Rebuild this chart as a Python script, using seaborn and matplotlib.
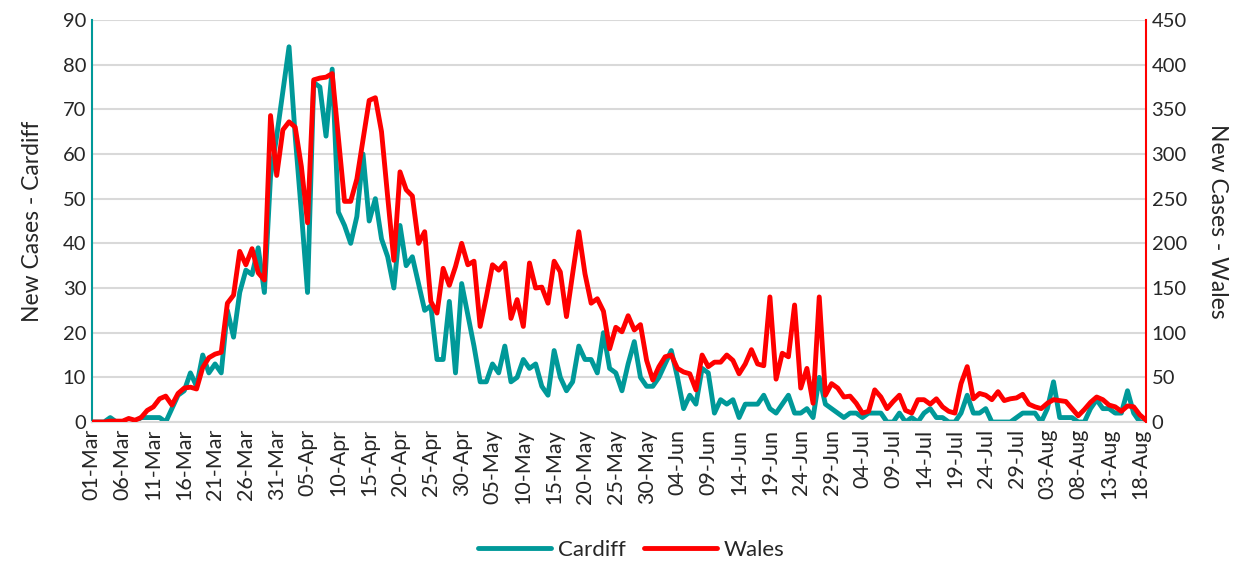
import matplotlib
matplotlib.use("Agg")
import matplotlib.pyplot as plt
import pandas as pd
import seaborn as sns

# daily new cases, 01-Mar to 19-Aug
cardiff = [0, 0, 0, 1, 0, 0, 0, 0, 1, 1,
           1, 1, 0, 3, 6, 7, 11, 8, 15, 11,
           13, 11, 25, 19, 29, 34, 33, 39, 29, 55,
           64, 74, 84, 64, 47, 29, 76, 75, 64, 79,
           47, 44, 40, 46, 60, 45, 50, 41, 37, 30,
           44, 35, 37, 31, 25, 26, 14, 14, 27, 11,
           31, 24, 17, 9, 9, 13, 11, 17, 9, 10,
           14, 12, 13, 8, 6, 16, 10, 7, 9, 17,
           14, 14, 11, 20, 12, 11, 7, 13, 18, 10,
           8, 8, 10, 13, 16, 10, 3, 6, 4, 12,
           11, 2, 5, 4, 5, 1, 4, 4, 4, 6,
           3, 2, 4, 6, 2, 2, 3, 1, 10, 4,
           3, 2, 1, 2, 2, 1, 2, 2, 2, 0,
           0, 2, 0, 1, 0, 2, 3, 1, 1, 0,
           0, 2, 6, 2, 2, 3, 0, 0, 0, 0,
           1, 2, 2, 2, 0, 3, 9, 1, 1, 1,
           0, 0, 3, 5, 3, 3, 2, 2, 7, 2,
           0, 0]

wales = [0, 0, 0, 1, 1, 1, 4, 2, 5, 13,
         17, 26, 29, 19, 32, 38, 39, 37, 61, 72,
         76, 78, 133, 142, 191, 176, 194, 167, 159, 343,
         276, 327, 336, 330, 286, 223, 383, 385, 386, 390,
         318, 247, 247, 272, 316, 360, 363, 325, 252, 181,
         280, 260, 253, 200, 213, 135, 122, 172, 153, 174,
         200, 176, 180, 107, 140, 176, 170, 178, 116, 137,
         107, 178, 150, 151, 133, 180, 168, 118, 166, 213,
         166, 133, 138, 124, 82, 106, 101, 119, 103, 109,
         69, 47, 62, 73, 75, 60, 56, 54, 36, 75,
         62, 67, 67, 75, 69, 54, 65, 81, 65, 63,
         140, 48, 77, 73, 131, 38, 60, 21, 140, 30,
         43, 38, 28, 29, 21, 10, 12, 36, 28, 15,
         23, 30, 13, 10, 25, 25, 20, 26, 17, 12,
         10, 43, 62, 26, 32, 30, 25, 34, 24, 26,
         27, 31, 20, 17, 15, 21, 25, 24, 23, 15,
         7, 14, 22, 28, 25, 19, 17, 12, 18, 17,
         8, 2]

dates = pd.date_range("2020-03-01", periods=len(cardiff), freq="D")
tick_pos = list(range(0, len(dates), 5))
tick_labels = [dates[i].strftime("%d-%b") for i in tick_pos]

df = pd.DataFrame({"day": range(len(dates)), "Cardiff": cardiff, "Wales": wales})

teal = "#009999"
red = "#FF0000"

sns.set_style("white")
plt.rcParams["font.family"] = ["Lato", "DejaVu Sans"]

fig = plt.figure(figsize=(12.5, 5.63), dpi=100)
ax = fig.add_axes([0.0734, 0.2504, 0.8434, 0.7141])
ax2 = ax.twinx()

sns.lineplot(data=df, x="day", y="Cardiff", color=teal, linewidth=3.5, ax=ax, label="Cardiff")
sns.lineplot(data=df, x="day", y="Wales", color=red, linewidth=3.5, ax=ax2, label="Wales")

ax.set_xlim(0, len(dates) - 1)
ax.set_ylim(0, 90)
ax2.set_ylim(0, 450)
ax.set_yticks(range(0, 91, 10))
ax2.set_yticks(range(0, 451, 50))
ax.set_xticks(tick_pos)
ax.set_xticklabels(tick_labels, rotation=90)

ax.grid(axis="y", color="#D9D9D9", linewidth=1.5)
ax.set_axisbelow(True)

ax.set_xlabel("")
ax.set_ylabel("New Cases - Cardiff", fontsize=16.5, labelpad=14)
ax2.set_ylabel("New Cases - Wales", fontsize=16.5, rotation=270, labelpad=30)

for a in (ax, ax2):
    a.tick_params(axis="both", length=0, labelsize=14.5, pad=4)
    for s in a.spines.values():
        s.set_visible(False)
ax.tick_params(axis="x", labelsize=15.5, pad=5)
ax.spines["left"].set_visible(True)
ax.spines["left"].set_color(teal)
ax.spines["left"].set_linewidth(1.5)
ax2.spines["right"].set_visible(True)
ax2.spines["right"].set_color(red)
ax2.spines["right"].set_linewidth(1.5)
ax.spines["bottom"].set_visible(True)
ax.spines["bottom"].set_color("#D9D9D9")
ax.spines["bottom"].set_linewidth(1.5)

h1, l1 = ax.get_legend_handles_labels()
h2, l2 = ax2.get_legend_handles_labels()
ax.get_legend().remove()
ax2.get_legend().remove()
fig.legend(h1 + h2, l1 + l2, loc="lower center", bbox_to_anchor=(0.505, -0.03), ncol=2,
           frameon=False, fontsize=16, handlelength=3.3, columnspacing=0.8, handletextpad=0.3)

fig.savefig("out.png", dpi=100)
